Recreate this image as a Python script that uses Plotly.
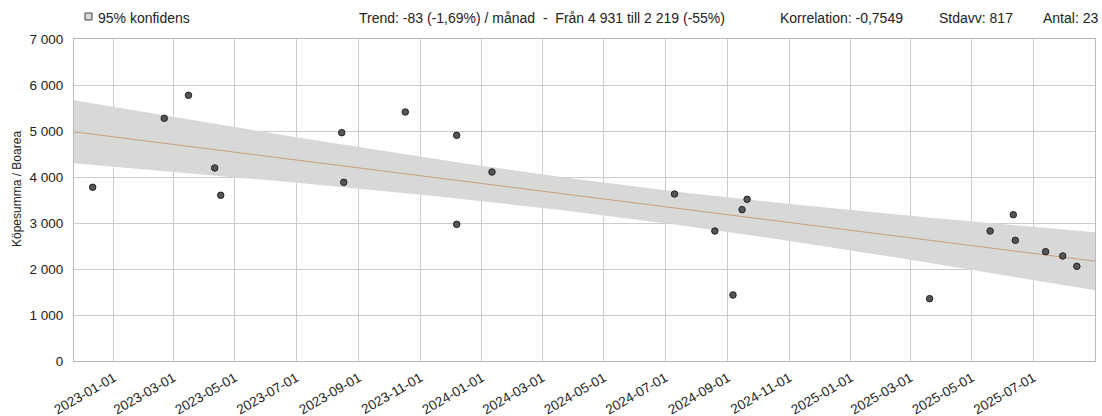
import numpy as np
import pandas as pd
import plotly.graph_objects as go

# ---- data ----
dates = ["2022-12-11", "2023-02-20", "2023-03-16", "2023-04-11", "2023-04-17",
         "2023-08-15", "2023-08-17", "2023-10-17", "2023-12-07", "2023-12-07",
         "2024-01-11", "2024-07-10", "2024-08-19", "2024-09-06", "2024-09-15",
         "2024-09-20", "2025-03-20", "2025-05-19", "2025-06-11", "2025-06-13",
         "2025-07-13", "2025-07-30", "2025-08-13"]
values = [3776, 5276, 5776, 4196, 3602,
          4964, 3884, 5413, 4906, 2971,
          4109, 3630, 2826, 1435, 3290,
          3515, 1355, 2826, 3181, 2623,
          2377, 2283, 2059]

trend_start = 4931
trend_end = 2219
stdavv = 817
t_value = 2.08  # 95% two-sided, n-2 = 21 dof

y_tickvals = [0, 1000, 2000, 3000, 4000, 5000, 6000, 7000]
y_ticktext = ["0", "1 000", "2 000", "3 000", "4 000", "5 000", "6 000", "7 000"]
x_tickvals = ["2023-01-01", "2023-03-01", "2023-05-01", "2023-07-01", "2023-09-01",
              "2023-11-01", "2024-01-01", "2024-03-01", "2024-05-01", "2024-07-01",
              "2024-09-01", "2024-11-01", "2025-01-01", "2025-03-01", "2025-05-01",
              "2025-07-01"]
x_range = ["2022-11-22 12:00", "2025-08-31"]

legend_label = "95% konfidens"
header_trend = "Trend: -83 (-1,69%) / månad  -  Från 4 931 till 2 219 (-55%)"
header_korr = "Korrelation: -0,7549"
header_std = "Stdavv: 817"
header_antal = "Antal: 23"
y_title = "Köpesumma / Boarea"

# ---- derived trend & confidence band ----
d = pd.to_datetime(pd.Series(dates))
t0 = d.min()
days = (d - t0).dt.total_seconds().to_numpy() / 86400.0
n = len(values)
slope = (trend_end - trend_start) / (days.max() - days.min())
dm = days.mean()
sxx = ((days - dm) ** 2).sum()

xr0 = pd.Timestamp(x_range[0])
xr1 = pd.Timestamp(x_range[1])
grid = pd.date_range(xr0, xr1, periods=200)
gdays = (grid - t0).total_seconds().to_numpy() / 86400.0
trend_vals = trend_start + slope * gdays
half = t_value * stdavv * np.sqrt(1.0 / n + (gdays - dm) ** 2 / sxx)

fig = go.Figure()
fig.add_trace(go.Scatter(x=grid, y=trend_vals + half, mode="lines",
                         line=dict(width=0, color="rgba(0,0,0,0)"),
                         showlegend=False, hoverinfo="skip"))
fig.add_trace(go.Scatter(x=grid, y=trend_vals - half, mode="lines",
                         line=dict(width=0, color="rgba(0,0,0,0)"),
                         fill="tonexty", fillcolor="rgb(216,216,216)",
                         showlegend=False, hoverinfo="skip"))
fig.add_trace(go.Scatter(x=grid, y=trend_vals, mode="lines",
                         line=dict(width=1, color="#c9a07c"),
                         showlegend=False))
fig.add_trace(go.Scatter(x=dates, y=values, mode="markers",
                         marker=dict(size=6.5, color="#555555",
                                     line=dict(width=1, color="#222222")),
                         showlegend=False))

font_family = "Arial, Liberation Sans, sans-serif"
tick_font = dict(family=font_family, size=13.5, color="#222222")

L, R, T, B = 74, 1095, 39, 361

def px_x(X):
    return (X - L) / (R - L)

def px_y(Y):
    return (B - Y) / (B - T)

ann_y = px_y(18)
annotations = [
    dict(text=legend_label, x=px_x(96), y=ann_y, xanchor="left"),
    dict(text=header_trend, x=px_x(357), y=ann_y, xanchor="left"),
    dict(text=header_korr, x=px_x(778), y=ann_y, xanchor="left"),
    dict(text=header_std, x=px_x(937), y=ann_y, xanchor="left"),
    dict(text=header_antal, x=px_x(1100), y=ann_y, xanchor="right"),
]
for a in annotations:
    a.update(xref="paper", yref="paper", yanchor="middle", showarrow=False,
             font=dict(family=font_family, size=14, color="#222222"))
annotations.append(dict(text=y_title, xref="paper", yref="paper",
                        x=px_x(17), y=px_y(189), xanchor="center",
                        yanchor="middle", textangle=-90, showarrow=False,
                        font=dict(family=font_family, size=12, color="#222222")))

fig.update_layout(
    width=1102, height=416,
    margin=dict(l=L, r=1102 - R, t=T, b=416 - B),
    paper_bgcolor="white", plot_bgcolor="white",
    annotations=annotations,
    shapes=[dict(type="rect", xref="paper", yref="paper",
                 x0=px_x(85), x1=px_x(92), y0=px_y(20), y1=px_y(13),
                 fillcolor="rgb(216,216,216)", line=dict(color="#444444", width=1))],
    xaxis=dict(range=x_range, tickvals=x_tickvals, ticktext=x_tickvals,
               tickangle=-30, tickfont=tick_font, showgrid=True,
               gridcolor="#cccccc", gridwidth=1, showline=True,
               linecolor="#bbbbbb", mirror=True, zeroline=False,
               ticks="outside", ticklen=3, tickcolor="rgba(0,0,0,0)",
               automargin=False),
    yaxis=dict(range=[0, 7000], tickvals=y_tickvals, ticktext=y_ticktext,
               tickfont=tick_font, showgrid=True, gridcolor="#cccccc",
               showline=True, linecolor="#bbbbbb", mirror=True,
               zeroline=False, ticks="outside", ticklen=7,
               tickcolor="rgba(0,0,0,0)", automargin=False),
)

fig.write_html("out.html",
               config={"displayModeBar": False},
               post_script="document.body.style.margin='0px';"
                           "document.body.style.overflow='hidden';")
